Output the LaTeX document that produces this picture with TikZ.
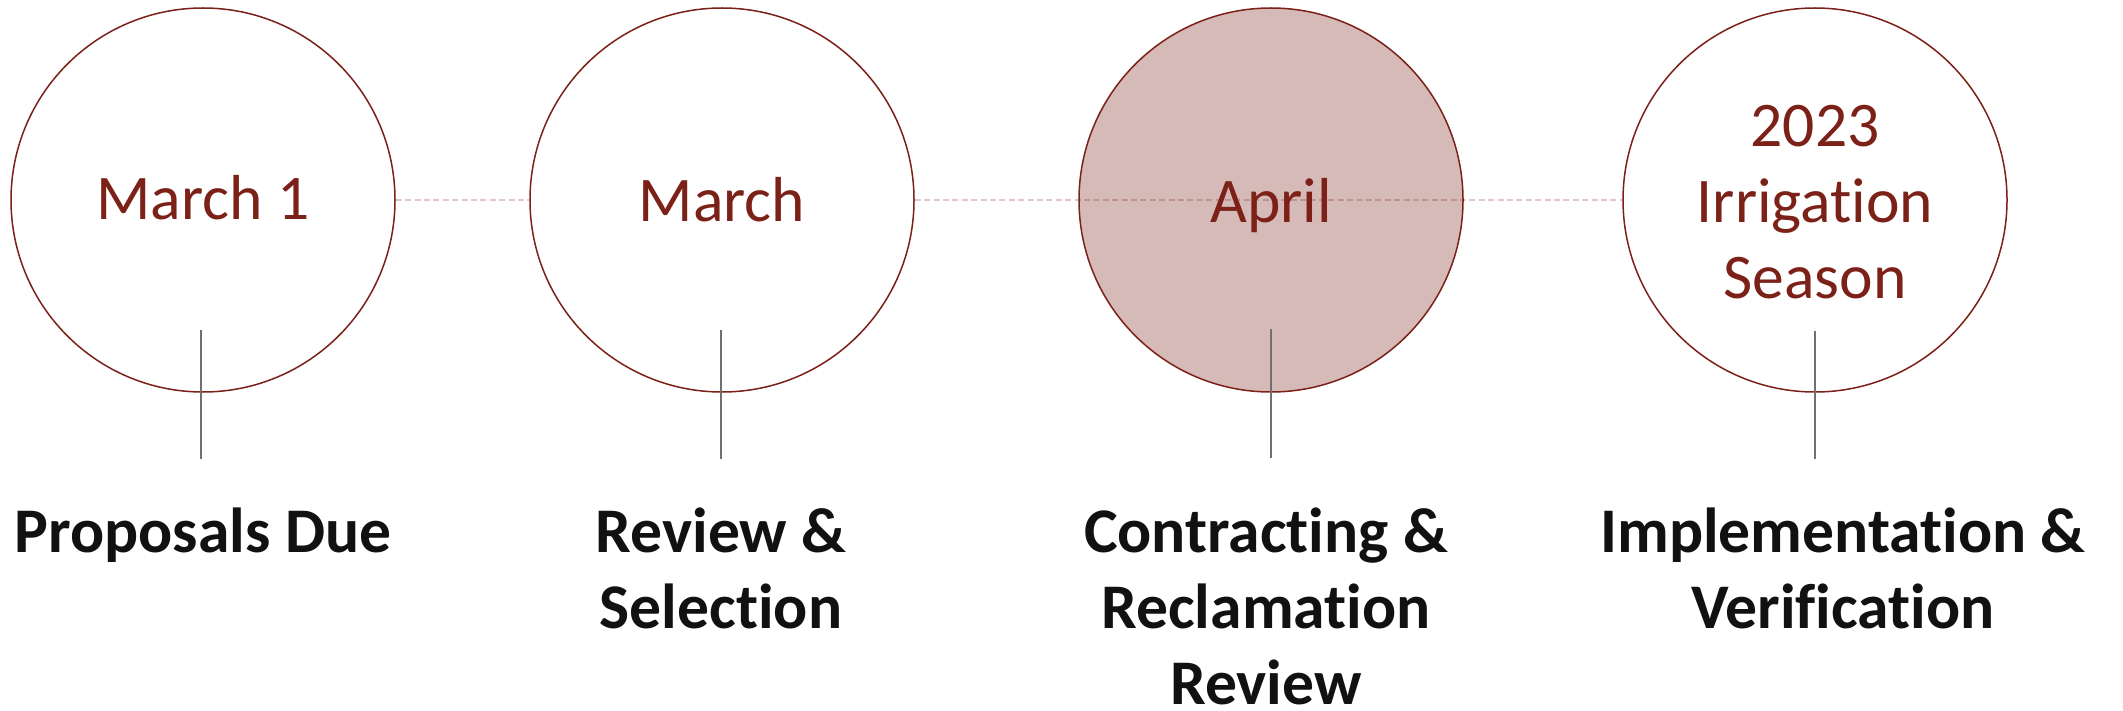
\documentclass[tikz,border=0pt]{standalone}
\usepackage{fontspec}
\setmainfont{Carlito}[Ligatures=NoCommon]
\definecolor{dred}{RGB}{123,33,24}
\definecolor{pfill}{RGB}{214,186,184}
\definecolor{tgray}{RGB}{112,112,112}
\definecolor{ltxt}{RGB}{17,17,17}
\begin{document}
\begin{tikzpicture}[x=0.5pt,y=-0.5pt,
  stage/.style={circle,draw=dred,line width=0.75pt,minimum size=192pt,inner sep=0pt,fill=white},
  datetext/.style={text=dred,font=\fontsize{31.8}{38}\selectfont,align=center,inner sep=0pt,anchor=base},
  steptext/.style={text=ltxt,font=\bfseries\fontsize{31.8}{38}\selectfont,align=center,inner sep=0pt,anchor=base},
  tick/.style={draw=tgray,line width=0.6pt},
  link/.style={draw=dred,draw opacity=0.25,line width=0.8pt,dash pattern=on 3pt off 1.7pt}]
\useasboundingbox (0,0) rectangle (2123,711);
\node[stage] (c1) at (203,200) {};
\node[stage] (c2) at (722,200) {};
\node[stage,fill=pfill] (c3) at (1271,200) {};
\node[stage] (c4) at (1815,200) {};
\draw[link] (c1.east) -- (c2.west);
\draw[link] (c2.east) -- (c4.west);
\node[datetext] (t1) at (203,220) {March 1};
\node[datetext] (t2) at (722,221) {March};
\node[datetext] (t3) at (1271,222) {April};
\node[datetext] (t4) at (1815,298) {2023\\Irrigation\\Season};
\coordinate (a1) at (201,330); \coordinate (b1) at (201,459);
\coordinate (a2) at (721,330); \coordinate (b2) at (721,459);
\coordinate (a3) at (1271,329); \coordinate (b3) at (1271,458);
\coordinate (a4) at (1815,331); \coordinate (b4) at (1815,459);
\draw[tick] (a1) -- (b1);
\draw[tick] (a2) -- (b2);
\draw[tick] (a3) -- (b3);
\draw[tick] (a4) -- (b4);
\node[steptext] (l1) at (203,552) {Proposals Due};
\node[steptext] (l2) at (721,628) {Review \&\\Selection};
\node[steptext] (l3) at (1266,704) {Contracting \&\\Reclamation\\Review};
\node[steptext] (l4) at (1843,628) {Implementation \&\\Verification};
\end{tikzpicture}
\end{document}
